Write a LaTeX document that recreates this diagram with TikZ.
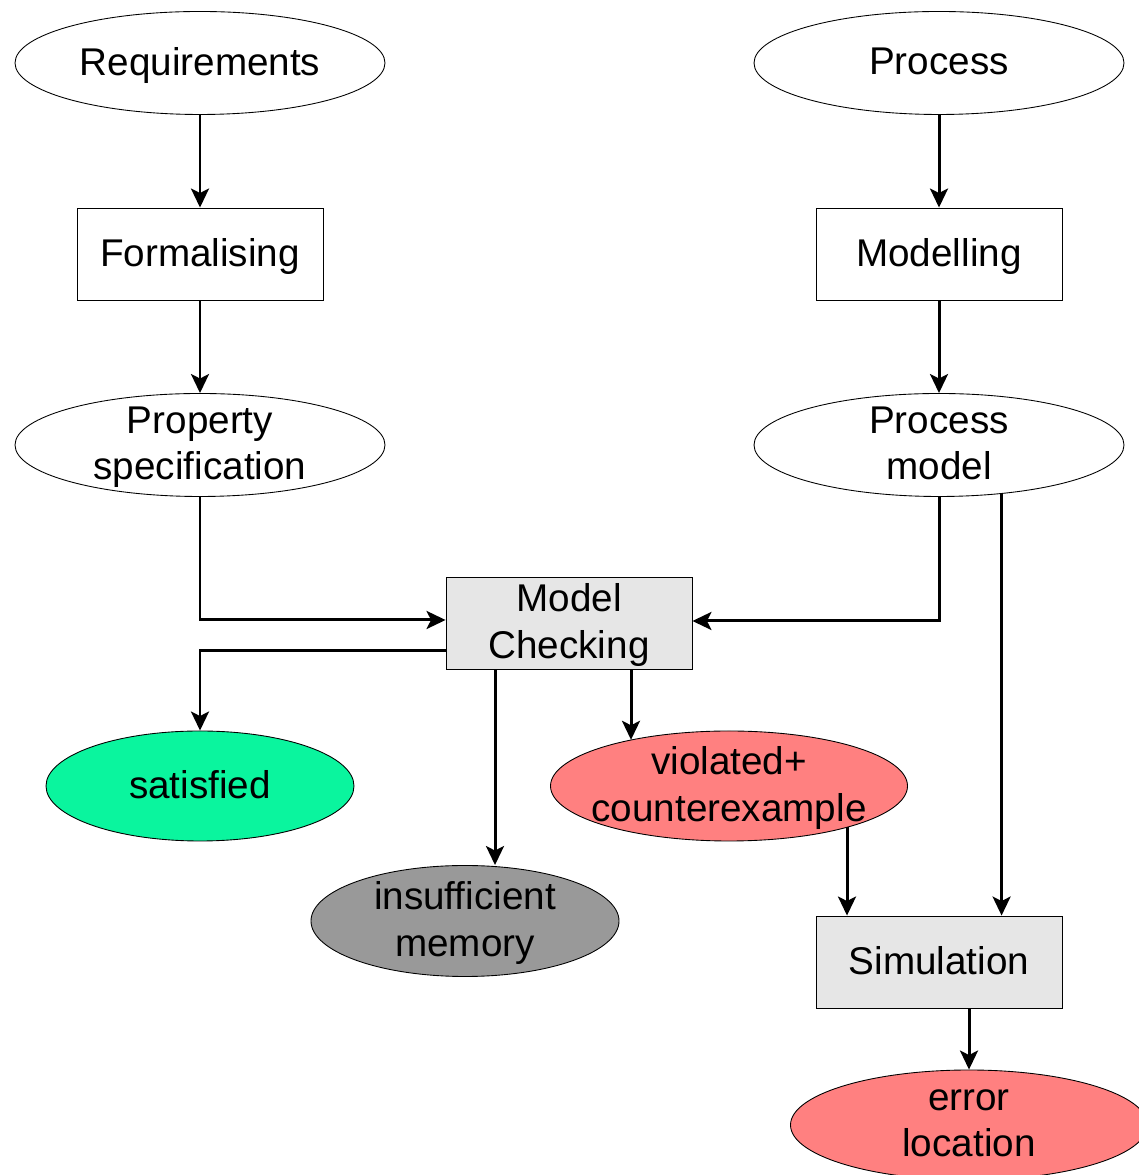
\documentclass[tikz,border=0pt]{standalone}
\usepackage{fontspec}
\setmainfont{Liberation Sans}
\usepackage{tikz}
\usepackage{xcolor}
\usetikzlibrary{shapes.geometric,arrows.meta}

\definecolor{okgreen}{HTML}{0AF59E}
\definecolor{badred}{HTML}{FF8080}
\definecolor{memgray}{HTML}{999999}
\definecolor{stepgray}{HTML}{E6E6E6}

\begin{document}
\begin{tikzpicture}[
    txt/.style={align=center,font=\fontsize{22}{26.5}\selectfont,
        inner sep=0pt,text depth=0.21em},
    oval/.style={draw,ellipse,line width=0.5pt,inner sep=0pt,
        minimum width=7.4cm,minimum height=2.06cm},
    result/.style={draw,ellipse,line width=0.5pt,inner sep=0pt,
        minimum width=6.16cm,minimum height=2.2cm},
    stage/.style={draw,rectangle,line width=0.5pt,inner sep=0pt,
        minimum width=4.92cm,minimum height=1.84cm},
    flow/.style={-{Stealth[length=0.38cm,width=0.36cm,inset=0.09cm]},
        line width=1.7pt}
]
    \useasboundingbox (0,0) rectangle (22.78,23.5);

    % left column
    \node[oval,label={[txt]center:Requirements}] (req) at (4.0,22.24) {};
    \node[stage,label={[txt]center:Formalising}] (form) at (4.0,18.42) {};
    \node[oval,label={[txt]center:Property\\specification}] (prop) at (4.0,14.6) {};

    % right column
    \node[oval,label={[txt]center:Process}] (proc) at (18.78,22.24) {};
    \node[stage,label={[txt]center:Modelling}] (model) at (18.78,18.42) {};
    \node[oval,label={[txt]center:Process\\model}] (pmod) at (18.78,14.6) {};

    % checking and outcomes
    \node[stage,fill=stepgray,label={[txt]center:Model\\Checking}] (check) at (11.38,11.04) {};
    \node[result,fill=okgreen,label={[txt]center:satisfied}] (sat) at (4.0,7.78) {};
    \node[result,fill=badred,minimum width=7.14cm,
        label={[txt]center:violated+\\counterexample}] (viol) at (14.58,7.78) {};
    \node[result,fill=memgray,minimum height=2.22cm,
        label={[txt]center:insufficient\\memory}] (mem) at (9.3,5.08) {};
    \node[stage,fill=stepgray,label={[txt]center:Simulation}] (sim) at (18.78,4.26) {};
    \node[result,fill=badred,minimum width=7.14cm,
        label={[txt]center:error\\location}] (err) at (19.38,1.0) {};

    \draw[flow] (req)--(form);
    \draw[flow] (form)--(prop);
    \draw[flow] (proc)--(model);
    \draw[flow] (model)--(pmod);
    \draw[flow] (prop.south) |- ([yshift=0.06cm]check.west);
    \draw[flow] (pmod.south) |- ([yshift=0.04cm]check.east);
    \draw[flow] ([yshift=-0.56cm]check.west) -| (sat.north);
    \draw[flow] ([xshift=-1.48cm]check.south) -- ([xshift=-1.48cm]check.south |- mem.north);
    \draw[flow] ([xshift=1.24cm]check.south) -- ([xshift=1.24cm]check.south |- viol.155);
    \draw[flow] ([xshift=-1.84cm]sim.north |- viol.-19.3) -- ([xshift=-1.84cm]sim.north);
    \draw[flow] (pmod.-38.6) -- (pmod.-38.6 |- sim.north);
    \draw[flow] ([xshift=0.6cm]sim.south) -- (err.north);
\end{tikzpicture}
\end{document}
